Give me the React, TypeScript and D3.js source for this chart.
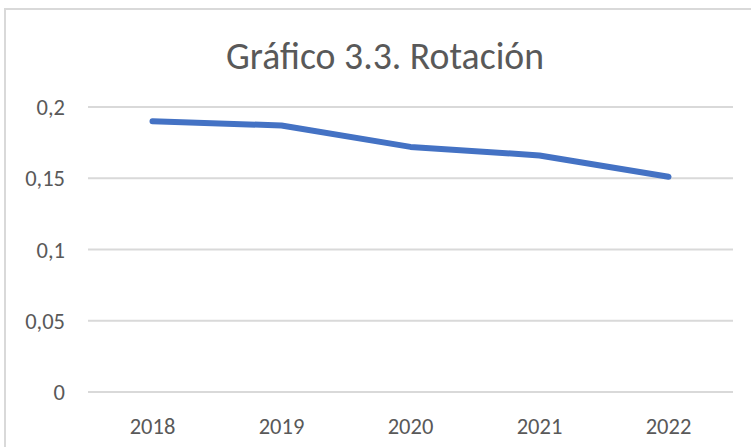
import React from "react";
import * as d3 from "d3";

const years: string[] = ["2018", "2019", "2020", "2021", "2022"];
const rotacion: number[] = [0.19, 0.187, 0.172, 0.166, 0.151];
const yTicks: number[] = [0, 0.05, 0.1, 0.15, 0.2];
const title = "Gráfico 3.3. Rotación";

const W = 751;
const H = 447;
const FONT = "Carlito, Lato, 'Open Sans', sans-serif";
const TEXT = "#595959";
const GRID = "#d9d9d9";

export default function App() {
  const x = d3.scaleBand<string>().domain(years).range([88, 733]);
  const y = d3.scaleLinear().domain([0, 0.2]).range([392, 107]);
  const line = d3
    .line<number>()
    .x((_, i) => (x(years[i]) as number) + x.bandwidth() / 2)
    .y((d) => y(d));
  const fmt = (v: number) => String(v).replace(".", ",");

  return (
    <svg
      width={W}
      height={H}
      style={{ position: "absolute", left: 0, top: 0, background: "#fff" }}
    >
      <rect x={5} y={9} width={800} height={500} fill="#fff" stroke={GRID} strokeWidth={2} />
      <text
        x={385}
        y={69}
        textAnchor="middle"
        fontFamily={FONT}
        fontSize={38}
        fill={TEXT}
        textLength={318}
        lengthAdjust="spacingAndGlyphs"
      >
        {title}
      </text>
      {yTicks.map((t) => (
        <g key={t}>
          <line x1={88} x2={733} y1={y(t)} y2={y(t)} stroke={GRID} strokeWidth={2} />
          <text
            x={65}
            y={y(t)}
            dy="0.36em"
            textAnchor="end"
            fontFamily={FONT}
            fontSize={22.5}
            fill={TEXT}
          >
            {fmt(t)}
          </text>
        </g>
      ))}
      {years.map((yr) => (
        <text
          key={yr}
          x={(x(yr) as number) + x.bandwidth() / 2}
          y={434}
          textAnchor="middle"
          fontFamily={FONT}
          fontSize={22.5}
          fill={TEXT}
        >
          {yr}
        </text>
      ))}
      <path
        d={line(rotacion) || ""}
        fill="none"
        stroke="#4472C4"
        strokeWidth={6}
        strokeLinecap="round"
        strokeLinejoin="round"
      />
    </svg>
  );
}
